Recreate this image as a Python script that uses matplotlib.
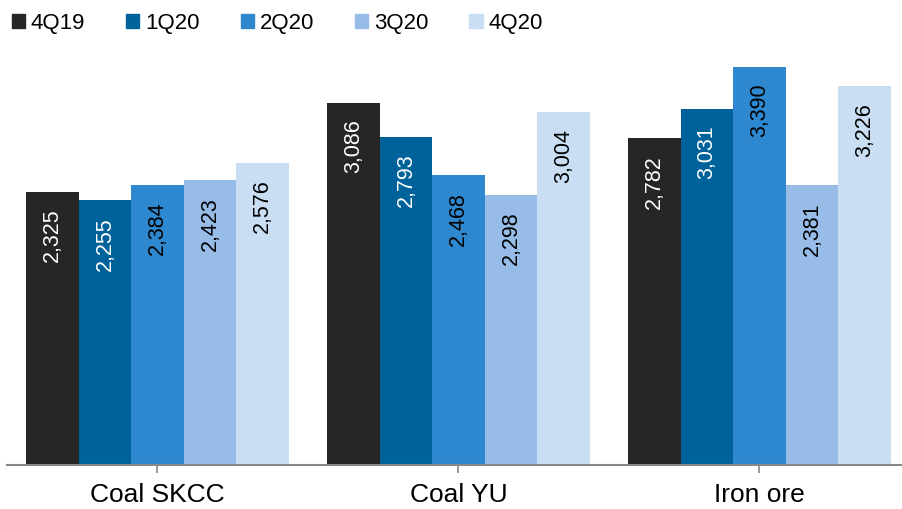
import matplotlib
matplotlib.use("Agg")
import matplotlib.pyplot as plt
import numpy as np
from matplotlib.patches import Rectangle

plt.rcParams['font.family'] = ['Liberation Sans', 'DejaVu Sans']

categories = ["Coal SKCC", "Coal YU", "Iron ore"]
series = ["4Q19", "1Q20", "2Q20", "3Q20", "4Q20"]
values = {
    "4Q19": [2325, 3086, 2782],
    "1Q20": [2255, 2793, 3031],
    "2Q20": [2384, 2468, 3390],
    "3Q20": [2423, 2298, 2381],
    "4Q20": [2576, 3004, 3226],
}
colors = ["#262626", "#00629B", "#2E88CF", "#97BCE8", "#C9DEF3"]
label_colors = ["white", "white", "black", "black", "black"]

W, H = 903, 509
fig = plt.figure(figsize=(W / 100, H / 100), dpi=100)
ax = fig.add_axes([7 / W, 1 - 465 / H, 896 / W, 420 / H])

x = np.arange(len(categories))
bw = 0.1745
n = len(series)
for i, s in enumerate(series):
    offs = (i - (n - 1) / 2) * bw
    bars = ax.bar(x + offs, values[s], width=bw, color=colors[i], edgecolor='none', zorder=2)
    for b, v in zip(bars, values[s]):
        ax.annotate(f"{v:,}", xy=(b.get_x() + b.get_width() / 2, v),
                    xytext=(0, -12), textcoords='offset points',
                    rotation=90, ha='center', va='top', fontsize=15.5,
                    color=label_colors[i])

ax.set_xlim(-0.5, -0.5 + 896 / 301)
ax.set_ylim(0, 3577)
for sp in ['top', 'right', 'left']:
    ax.spines[sp].set_visible(False)
ax.spines['bottom'].set_color('#888888')
ax.spines['bottom'].set_linewidth(1.5)
ax.set_yticks([])
ax.set_xticks(x)
ax.set_xticklabels(categories, fontsize=19)
ax.tick_params(axis='x', length=6, width=1.2, color='#888888', pad=7)

handles = [Rectangle((0, 0), 1, 1, color=c) for c in colors]
leg = fig.legend(handles, series, loc='upper left', bbox_to_anchor=(4 / W, 1 - 5 / H),
                 ncol=5, frameon=False, fontsize=16, handlelength=0.6, handleheight=0.6,
                 handletextpad=0.25, columnspacing=1.85, borderaxespad=0.0, borderpad=0.35)

fig.savefig("out.png", dpi=100)
